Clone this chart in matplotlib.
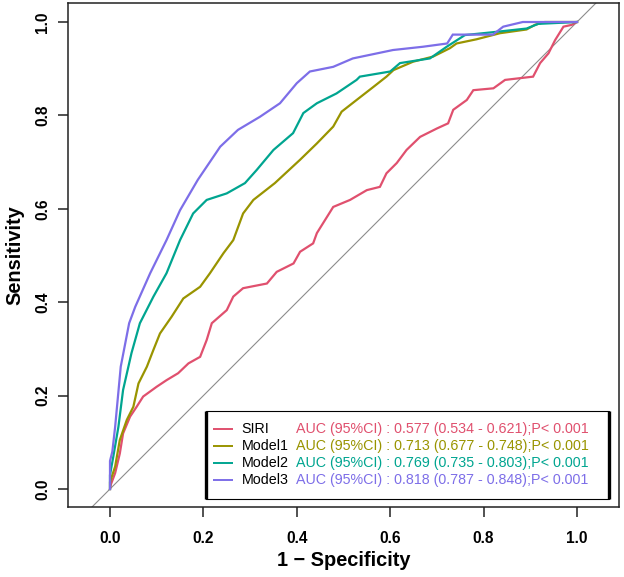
import matplotlib
matplotlib.use("Agg")
import matplotlib.pyplot as plt
from matplotlib.patches import Rectangle

# ---------------- data ----------------
names = ["SIRI", "Model1", "Model2", "Model3"]
auc_texts = [
    "AUC (95%CI) : 0.577 (0.534 - 0.621);P< 0.001",
    "AUC (95%CI) : 0.713 (0.677 - 0.748);P< 0.001",
    "AUC (95%CI) : 0.769 (0.735 - 0.803);P< 0.001",
    "AUC (95%CI) : 0.818 (0.787 - 0.848);P< 0.001",
]
colors = ["#E0506E", "#999400", "#00A590", "#7D6EE8"]

siri_fpr = [0.000, 0.002, 0.011, 0.021, 0.028, 0.043, 0.057, 0.071, 0.100, 0.121, 0.146,
            0.168, 0.193, 0.207, 0.218, 0.250, 0.264, 0.285, 0.336, 0.357, 0.393, 0.407,
            0.435, 0.443, 0.478, 0.514, 0.550, 0.578, 0.592, 0.614, 0.635, 0.664, 0.700,
            0.724, 0.735, 0.764, 0.778, 0.821, 0.846, 0.906, 0.921, 0.939, 0.953, 0.971,
            0.989, 1.000]
siri_tpr = [0.000, 0.010, 0.034, 0.076, 0.119, 0.155, 0.176, 0.198, 0.219, 0.233, 0.248,
            0.269, 0.283, 0.319, 0.355, 0.383, 0.412, 0.430, 0.440, 0.465, 0.483, 0.508,
            0.526, 0.548, 0.604, 0.619, 0.640, 0.647, 0.676, 0.698, 0.726, 0.754, 0.772,
            0.783, 0.812, 0.833, 0.854, 0.858, 0.876, 0.883, 0.912, 0.933, 0.961, 0.990,
            0.994, 1.000]

m1_fpr = [0.000, 0.000, 0.011, 0.021, 0.036, 0.050, 0.061, 0.079, 0.093, 0.107, 0.132,
          0.157, 0.193, 0.214, 0.243, 0.264, 0.285, 0.307, 0.353, 0.407, 0.443, 0.478,
          0.496, 0.528, 0.564, 0.592, 0.607, 0.649, 0.692, 0.728, 0.742, 0.785, 0.835,
          0.892, 0.910, 0.931, 1.000]
m1_tpr = [0.000, 0.015, 0.048, 0.105, 0.148, 0.176, 0.226, 0.262, 0.298, 0.333, 0.369,
          0.408, 0.433, 0.462, 0.505, 0.533, 0.590, 0.619, 0.655, 0.705, 0.740, 0.776,
          0.808, 0.833, 0.861, 0.883, 0.897, 0.915, 0.926, 0.944, 0.954, 0.963, 0.976,
          0.984, 0.994, 1.000, 1.000]

m2_fpr = [0.000, 0.000, 0.007, 0.018, 0.028, 0.046, 0.064, 0.093, 0.121, 0.150, 0.178,
          0.207, 0.250, 0.289, 0.314, 0.350, 0.392, 0.414, 0.443, 0.485, 0.528, 0.535,
          0.600, 0.621, 0.685, 0.721, 0.760, 0.828, 0.892, 0.917, 1.000]
m2_tpr = [0.000, 0.030, 0.069, 0.133, 0.212, 0.291, 0.355, 0.412, 0.462, 0.533, 0.590,
          0.619, 0.633, 0.655, 0.683, 0.726, 0.762, 0.805, 0.826, 0.847, 0.876, 0.883,
          0.894, 0.912, 0.922, 0.947, 0.972, 0.979, 0.986, 0.996, 1.000]

m3_fpr = [0.000, 0.000, 0.005, 0.011, 0.023, 0.041, 0.054, 0.086, 0.121, 0.150, 0.188,
          0.236, 0.274, 0.321, 0.364, 0.400, 0.428, 0.478, 0.520, 0.606, 0.670, 0.722,
          0.734, 0.820, 0.842, 0.884, 1.000]
m3_tpr = [0.000, 0.060, 0.080, 0.133, 0.262, 0.355, 0.390, 0.462, 0.533, 0.597, 0.662,
          0.733, 0.769, 0.797, 0.826, 0.869, 0.894, 0.904, 0.922, 0.940, 0.947, 0.954,
          0.973, 0.973, 0.990, 1.000, 1.000]

curves = [(siri_fpr, siri_tpr), (m1_fpr, m1_tpr), (m2_fpr, m2_tpr), (m3_fpr, m3_tpr)]
tick_vals = [0.0, 0.2, 0.4, 0.6, 0.8, 1.0]
tick_labels = ["0.0", "0.2", "0.4", "0.6", "0.8", "1.0"]

# ---------------- figure ----------------
W, H = 624, 577
fig = plt.figure(figsize=(W / 100, H / 100), dpi=100)
ax_l, ax_r, ax_t, ax_b = 68.3, 619, 3, 507.3
ax = fig.add_axes([ax_l / W, 1 - ax_b / H, (ax_r - ax_l) / W, (ax_b - ax_t) / H])

x0px, unit = 110.0, 467.0          # pixel of x=0 and pixels per unit
y0px = 489.0                        # pixel of y=0
ax.set_xlim((ax_l - x0px) / unit, (ax_r - x0px) / unit)
ax.set_ylim((y0px - ax_b) / unit, (y0px - ax_t) / unit)

FONT = "Liberation Sans"

# diagonal reference line
ax.axline((0, 0), (1, 1), color="#8c8c8c", lw=0.8, zorder=1)

for (fx, ty), c in zip(curves, colors):
    ax.plot(fx, ty, color=c, lw=1.6, zorder=2, solid_joinstyle="miter")

for s in ax.spines.values():
    s.set_linewidth(1.1)
    s.set_color("#222222")

ax.set_xticks(tick_vals)
ax.set_xticklabels(tick_labels, fontfamily=FONT, fontweight="bold", fontsize=11.2)
ax.set_yticks(tick_vals)
ax.set_yticklabels(tick_labels, fontfamily=FONT, fontweight="bold", fontsize=11.2,
                   rotation=90, va="center")
ax.tick_params(axis="x", direction="out", length=7, width=1.1, pad=10, color="#222222")
ax.tick_params(axis="y", direction="out", length=7, width=1.1, pad=6, color="#222222")

# axis titles
fig.text(343.6 / W, 1 - 566.3 / H, "1 \u2212 Specificity", fontfamily=FONT,
         fontweight="bold", fontsize=14.4, ha="center", va="baseline")
fig.text(14.7 / W, 1 - 255.5 / H, "Sensitivity", fontfamily=FONT,
         fontweight="bold", fontsize=14.4, ha="center", va="center", rotation=90)

# legend box (pixel layout converted to data coords)
def dx(px):
    return (px - x0px) / unit

def dy(py):
    return (y0px - py) / unit

lb_l, lb_r, lb_t, lb_b = 205.5, 609, 411, 499.3
ax.add_patch(Rectangle((dx(lb_l), dy(lb_b)), dx(lb_r) - dx(lb_l), dy(lb_t) - dy(lb_b),
                       facecolor="white", edgecolor="black", lw=0.8, zorder=5))
ax.plot([dx(lb_l), dx(lb_l)], [dy(lb_b), dy(lb_t)], color="black", lw=2.4, zorder=6,
        solid_capstyle="butt")
ax.plot([dx(lb_r), dx(lb_r)], [dy(lb_b), dy(lb_t)], color="black", lw=2.4, zorder=6,
        solid_capstyle="butt")

row_y = [429.3, 446.0, 462.7, 479.6]
for name, txt, c, ry in zip(names, auc_texts, colors, row_y):
    ax.plot([dx(212.7), dx(232.7)], [dy(ry), dy(ry)], color=c, lw=1.4, zorder=7,
            solid_capstyle="butt")
    ax.text(dx(241.7), dy(ry), name, color="black", fontfamily=FONT, fontsize=10.3,
            va="center", ha="left", zorder=7)
    ax.text(dx(296.5), dy(ry), txt, color=c, fontfamily=FONT, fontsize=10.3,
            va="center", ha="left", zorder=7)

fig.savefig("out.png", dpi=100)
